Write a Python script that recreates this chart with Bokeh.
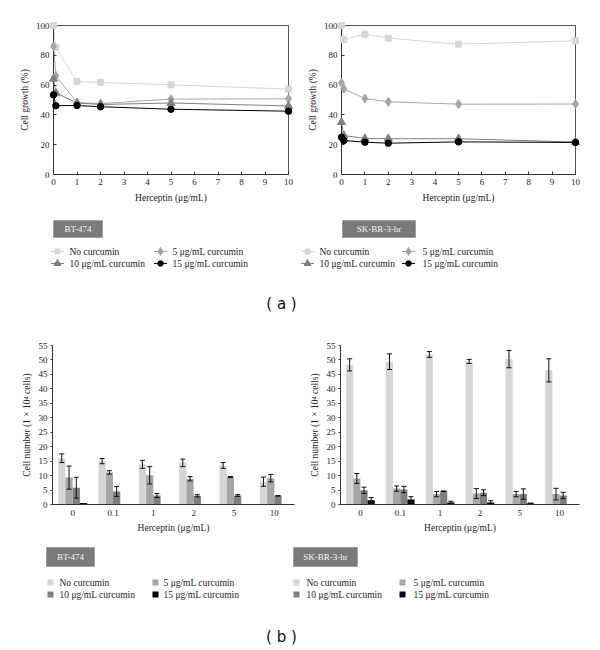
from bokeh.plotting import figure
from bokeh.layouts import column, row
from bokeh.models import Range1d, FactorRange, ColumnDataSource, Whisker, TeeHead, FixedTicker
from bokeh.transform import dodge
from bokeh.core.properties import value
from bokeh.embed import file_html
from bokeh.resources import INLINE

# ---------------- data ----------------
series_labels = ["No curcumin", "5 μg/mL curcumin", "10 μg/mL curcumin", "15 μg/mL curcumin"]

line_x = [0, 0.1, 1, 2, 5, 10]
bt_no = [100, 85.5, 62.4, 61.8, 60.2, 57.3]
bt_5 = [86.0, 66.3, 48.2, 47.6, 50.6, 50.8]
bt_10 = [64.2, 54.8, 48.0, 47.0, 48.0, 46.0]
bt_15 = [53.5, 46.2, 46.3, 45.5, 43.8, 42.5]
sk_no = [100, 90.5, 94.2, 91.5, 87.5, 89.7]
sk_5 = [61.5, 57.5, 51.0, 48.8, 47.2, 47.3]
sk_10 = [35.1, 26.2, 24.2, 24.0, 24.0, 21.8]
sk_15 = [25.0, 22.8, 21.7, 21.0, 21.9, 21.5]

bar_cats = ["0", "0.1", "1", "2", "5", "10"]
bt_bar_no = [16.0, 15.0, 13.9, 14.4, 13.5, 7.9]
bt_bar_no_err = [1.5, 0.9, 1.4, 1.3, 1.0, 1.6]
bt_bar_5 = [9.3, 11.1, 10.1, 8.9, 9.5, 9.1]
bt_bar_5_err = [4.0, 0.6, 3.0, 0.75, 0.2, 1.3]
bt_bar_10 = [5.8, 4.5, 3.1, 3.0, 3.1, 3.0]
bt_bar_10_err = [3.6, 1.7, 0.7, 0.4, 0.3, 0.1]
bt_bar_15 = [0.5, 0.2, 0.2, 0.2, 0.2, 0.2]
bt_bar_15_err = [0, 0, 0, 0, 0, 0]
sk_bar_no = [48.3, 49.4, 51.9, 49.5, 50.3, 46.4]
sk_bar_no_err = [2.1, 2.7, 1.0, 0.7, 3.0, 4.0]
sk_bar_5 = [9.0, 5.5, 3.6, 3.8, 3.6, 3.6]
sk_bar_5_err = [1.7, 0.9, 0.9, 1.7, 0.9, 2.0]
sk_bar_10 = [4.9, 5.2, 4.6, 4.1, 3.6, 3.1]
sk_bar_10_err = [1.1, 1.1, 0.1, 1.0, 1.8, 1.1]
sk_bar_15 = [1.5, 1.7, 0.7, 0.7, 0.4, 0.2]
sk_bar_15_err = [0.9, 1.0, 0.4, 0.6, 0.1, 0]

cell_names = ["BT-474", "SK-BR-3-hr"]

# ---------------- style ----------------
SERIF = "Liberation Serif"
AXC = "#333333"
TXT = "#222222"
series_colors = ["#d6d6d6", "#a6a6a6", "#7f7f7f", "#000000"]
series_markers = ["square", "diamond", "triangle", "circle"]
marker_sizes = [6, 9, 8, 6.5]
bar_w = 0.18
bar_offsets = [-0.27, -0.09, 0.09, 0.27]


def style_axes(p):
    for ax in p.axis:
        ax.axis_line_color = AXC
        ax.major_tick_line_color = AXC
        ax.minor_tick_line_color = None
        ax.major_label_text_font = SERIF
        ax.major_label_text_font_size = "9px"
        ax.major_label_text_color = TXT
        ax.axis_label_text_font = SERIF
        ax.axis_label_text_font_size = "9.5px"
        ax.axis_label_text_font_style = "normal"
        ax.axis_label_text_color = TXT
    p.grid.visible = False


def line_panel(ys, bl, br, fw=300, fh=213):
    p = figure(width=fw, height=fh, x_range=Range1d(0, 10), y_range=Range1d(0, 100),
               output_backend="svg", toolbar_location=None,
               min_border_left=bl, min_border_right=br, min_border_top=25, min_border_bottom=fh - 174,
               x_axis_label="Herceptin (μg/mL)", y_axis_label="Cell growth (%)")
    for y, c, m, s in zip(ys, series_colors, series_markers, marker_sizes):
        p.line(line_x, y, line_color=c, line_width=1)
        p.scatter(line_x, y, marker=m, size=s, fill_color=c, line_color=c, level="overlay")
    style_axes(p)
    p.xaxis.ticker = FixedTicker(ticks=list(range(0, 11)))
    p.yaxis.ticker = FixedTicker(ticks=list(range(0, 101, 20)))
    for ax in p.axis:
        ax.major_tick_in = 3
        ax.major_tick_out = 0
        ax.major_label_standoff = 4
    p.yaxis.axis_label_standoff = 3
    p.xaxis.axis_label_standoff = 5
    p.outline_line_color = "#555555"
    return p


def bar_panel(vals, errs, bl, br, fw=300, fh=205):
    p = figure(width=fw, height=fh, x_range=FactorRange(factors=bar_cats, range_padding=0),
               y_range=Range1d(0, 55), output_backend="svg", toolbar_location=None,
               min_border_left=bl, min_border_right=br, min_border_top=10, min_border_bottom=36,
               x_axis_label="Herceptin (μg/mL)", y_axis_label="Cell number (1 × 10⁴ cells)")
    for i, (v, e, c) in enumerate(zip(vals, errs, series_colors)):
        off = bar_offsets[i]
        src = ColumnDataSource(dict(cat=bar_cats, top=v))
        p.vbar(x=dodge("cat", off, range=p.x_range), top="top", width=bar_w, source=src,
               fill_color=c, line_color=None)
        idx = [k for k in range(len(e)) if e[k] > 0]
        wsrc = ColumnDataSource(dict(cat=[bar_cats[k] for k in idx],
                                     up=[v[k] + e[k] for k in idx],
                                     lo=[v[k] - e[k] for k in idx]))
        w = Whisker(source=wsrc, base=dodge("cat", off, range=p.x_range), upper="up", lower="lo",
                    line_color="#111111", line_width=1,
                    upper_head=TeeHead(size=5, line_color="#111111", line_width=1),
                    lower_head=TeeHead(size=5, line_color="#111111", line_width=1))
        w.level = "overlay"
        p.add_layout(w)
    style_axes(p)
    p.yaxis.ticker = FixedTicker(ticks=list(range(0, 56, 5)))
    p.yaxis.major_tick_in = 0
    p.yaxis.major_tick_out = 2
    p.yaxis.major_label_standoff = 3
    p.yaxis.axis_label_standoff = 4
    p.xaxis.major_tick_in = 0
    p.xaxis.major_tick_out = 0
    p.xaxis.major_label_standoff = 5
    p.xaxis.axis_label_standoff = 4
    p.outline_line_color = None
    return p


def ann_fig(h):
    p = figure(width=600, height=h, x_range=Range1d(0, 600), y_range=Range1d(h, 0),
               x_axis_type=None, y_axis_type=None, output_backend="svg", toolbar_location=None,
               min_border_left=0, min_border_right=0, min_border_top=0, min_border_bottom=0)
    p.outline_line_color = None
    return p


def label_boxes(p, boxes):
    for (l, r, t, b), name in zip(boxes, cell_names):
        p.quad(left=[l], right=[r], top=[t], bottom=[b], fill_color="#7a7a7a", line_color="#a0a0a0")
        p.text(x=[(l + r) / 2], y=[(t + b) / 2], text=[name], text_font=value(SERIF),
               text_font_size="9px", text_color="#f4f4f4", text_align="center", text_baseline="middle")


legend_pos = [(0, 0), (0, 1), (1, 0), (1, 1)]  # (row, col) of each series in the legends

# ---- (a) annotations ----
ann_a = ann_fig(122)
label_boxes(ann_a, [(53, 102, 7, 24), (342, 415, 7, 24)])
rows_a = [38, 50]
for mcols, tcols in [([57, 160], [69, 172]), ([307, 408], [319, 422])]:
    for k, (r, cidx) in enumerate(legend_pos):
        mx = mcols[cidx]
        yy = rows_a[r]
        ann_a.segment(x0=[mx - 6.5], y0=[yy], x1=[mx + 6.5], y1=[yy], line_color=series_colors[k], line_width=1)
        ann_a.scatter([mx], [yy], marker=series_markers[k], size=marker_sizes[k] - 1,
                      fill_color=series_colors[k], line_color=series_colors[k])
        ann_a.text(x=[tcols[cidx]], y=[yy], text=[series_labels[k]], text_font=value(SERIF),
                   text_font_size="9.5px", text_color=TXT, text_baseline="middle")
ann_a.text(x=[281], y=[90], text=["( a )"], text_font=value("DejaVu Sans"), text_font_size="15px",
           text_color="#111111", text_align="center", text_baseline="middle")

# ---- (b) annotations ----
ann_b = ann_fig(110)
label_boxes(ann_b, [(46, 94, 7, 26), (293, 357, 7, 26)])
rows_b = [42, 54]
for mcols, tcols in [([50, 155], [59, 163]), ([296, 402], [306, 413])]:
    for k, (r, cidx) in enumerate(legend_pos):
        mx = mcols[cidx]
        yy = rows_b[r]
        ann_b.scatter([mx], [yy], marker="square", size=6, fill_color=series_colors[k], line_color=None)
        ann_b.text(x=[tcols[cidx]], y=[yy], text=[series_labels[k]], text_font=value(SERIF),
                   text_font_size="9.5px", text_color=TXT, text_baseline="middle")
ann_b.text(x=[281], y=[96], text=["( b )"], text_font=value("DejaVu Sans"), text_font_size="15px",
           text_color="#111111", text_align="center", text_baseline="middle")

pa1 = line_panel([bt_no, bt_5, bt_10, bt_15], 53, 12)
pa2 = line_panel([sk_no, sk_5, sk_10, sk_15], 41, 25)
pb1 = bar_panel([bt_bar_no, bt_bar_5, bt_bar_10, bt_bar_15],
                [bt_bar_no_err, bt_bar_5_err, bt_bar_10_err, bt_bar_15_err], 52, 6)
pb2 = bar_panel([sk_bar_no, sk_bar_5, sk_bar_10, sk_bar_15],
                [sk_bar_no_err, sk_bar_5_err, sk_bar_10_err, sk_bar_15_err], 40, 21)

layout = column(row(pa1, pa2), ann_a, row(pb1, pb2), ann_b)
open("out.html", "w").write(file_html(layout, INLINE))
